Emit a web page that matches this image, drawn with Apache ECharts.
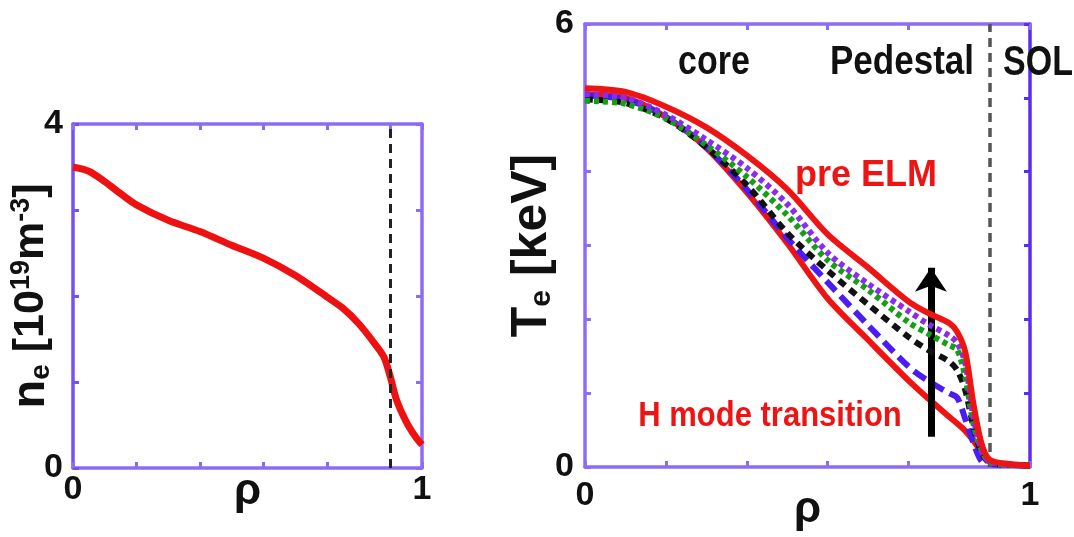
<!DOCTYPE html>
<html><head><meta charset="utf-8">
<script src="https://cdn.jsdelivr.net/npm/echarts@6/dist/echarts.min.js"></script>
<style>html,body{margin:0;padding:0;background:#fff}#c{width:1074px;height:537px}</style>
</head><body><div id="c"></div>
<script>
// ---- data ----
const rhoNe = [0, 0.05, 0.1, 0.15, 0.2, 0.3, 0.4, 0.5, 0.6, 0.7, 0.8, 0.85, 0.9, 0.95, 0.98, 1.0, 1.02, 1.05, 1.08, 1.1];
const ne    = [3.50, 3.45, 3.33, 3.19, 3.06, 2.88, 2.75, 2.59, 2.44, 2.24, 1.99, 1.86, 1.68, 1.45, 1.29, 1.06, 0.79, 0.54, 0.36, 0.27];

const rhoTe    = [0, 0.1, 0.2, 0.3, 0.4, 0.5, 0.6, 0.7, 0.8, 0.85, 0.9, 0.92, 0.94, 0.96, 0.98, 1.0, 1.05, 1.1];
const teHmode  = [5.05, 5.00, 4.74, 4.32, 3.72, 3.03, 2.28, 1.72, 1.17, 0.92, 0.68, 0.59, 0.49, 0.36, 0.20, 0.07, 0.03, 0.02];
const teBlue   = [5.03, 4.98, 4.74, 4.33, 3.76, 3.10, 2.50, 1.92, 1.36, 1.16, 1.00, 0.94, 0.65, 0.33, 0.08, 0.04, 0.03, 0.02];
const teBlack  = [4.98, 4.93, 4.72, 4.33, 3.82, 3.17, 2.66, 2.20, 1.76, 1.58, 1.43, 1.31, 1.04, 0.55, 0.20, 0.06, 0.03, 0.02];
const teGreen  = [4.96, 4.92, 4.72, 4.36, 3.93, 3.41, 2.80, 2.40, 1.96, 1.80, 1.65, 1.59, 1.22, 0.59, 0.23, 0.07, 0.03, 0.02];
const tePurple = [5.05, 5.00, 4.77, 4.43, 4.05, 3.56, 2.90, 2.48, 2.11, 1.93, 1.78, 1.68, 1.41, 0.68, 0.23, 0.07, 0.03, 0.02];
const tePreELM = [5.13, 5.08, 4.88, 4.60, 4.22, 3.76, 3.15, 2.70, 2.24, 2.08, 1.95, 1.83, 1.56, 0.86, 0.32, 0.10, 0.04, 0.02];

const rhoMax = 1.1;          // axis extent; separatrix at rho = 1
const separatrix = 1.0;
const arrowFrom = [0.855, 0.41];
const arrowTo   = [0.855, 2.70];

const xTickText  = [[0, '0'], [1.1, '1']];
const neTickText = [[0, '0'], [4, '4']];
const teTickText = [[0, '0'], [6, '6']];

// ---- chart ----
const pair = (xs, ys) => xs.map((x, i) => [x, ys[i]]);
const lookup = (tbl) => (v) => { for (const [k, t] of tbl) if (Math.abs(v - k) < 1e-6) return t; return ''; };

const FONT = 'Liberation Sans, Arial, sans-serif';
const AX = '#8c6cf4';
const AXDARK = '#5a2cf2';

function xAxis(grid, position, show, margin, nameGap, color) {
  return {
    type: 'value', gridIndex: grid, position, min: 0, max: rhoMax, interval: 0.2,
    axisLine: { show: true, onZero: false, lineStyle: { color: color || AX, width: 3.5 } },
    axisTick: { show: true, inside: true, length: 6, lineStyle: { color: color || AX, width: 3 } },
    splitLine: { show: false },
    axisLabel: show ? { show: true, showMinLabel: true, showMaxLabel: true, margin, formatter: lookup(xTickText),
      color: '#111', fontFamily: FONT, fontWeight: 'bold', fontSize: 34 } : { show: false },
    name: show ? 'ρ' : '', nameLocation: 'middle', nameGap: nameGap || 0, nameMoveOverlap: false,
    nameTextStyle: { color: '#111', fontFamily: FONT, fontSize: 44, fontWeight: 'bold' }
  };
}
function yAxis(grid, position, max, tbl, show, margin, color, name, nameGap, rich) {
  return {
    type: 'value', gridIndex: grid, position, min: 0, max, interval: 1,
    axisLine: { show: true, onZero: false, lineStyle: { color: color || AX, width: 3.5 } },
    axisTick: { show: true, inside: true, length: 6, lineStyle: { color: color || AX, width: 3 } },
    splitLine: { show: false },
    axisLabel: show ? { show: true, showMinLabel: true, showMaxLabel: true, margin, formatter: lookup(tbl),
      color: '#111', fontFamily: FONT, fontWeight: 'bold', fontSize: 34 } : { show: false },
    name: name || '', nameLocation: 'middle', nameRotate: 90, nameGap: nameGap || 0, nameMoveOverlap: false,
    nameTextStyle: { color: '#111', fontFamily: FONT, fontWeight: 'bold', fontSize: 44, rich: rich || {} }
  };
}

const neRich = {
  n: { fontFamily: FONT, fontWeight: 'bold', fontSize: 47, color: '#111' },
  s: { fontFamily: FONT, fontWeight: 'bold', fontSize: 28, color: '#111', verticalAlign: 'bottom' },
  b: { fontFamily: FONT, fontWeight: 'bold', fontSize: 43, color: '#111' },
  p: { fontFamily: FONT, fontWeight: 'bold', fontSize: 27, color: '#111', verticalAlign: 'top' }
};
const teRich = {
  n: { fontFamily: FONT, fontWeight: 'bold', fontSize: 50, color: '#111' },
  s: { fontFamily: FONT, fontWeight: 'bold', fontSize: 30, color: '#111', verticalAlign: 'bottom' },
  b: { fontFamily: FONT, fontWeight: 'bold', fontSize: 50, color: '#111' }
};

function teLine(name, data, color, type, width, z) {
  return {
    name, type: 'line', xAxisIndex: 2, yAxisIndex: 2, data: pair(rhoTe, data),
    showSymbol: false, symbol: 'none', smooth: 0.3, z: z, clip: true,
    lineStyle: { color, width, type, cap: 'butt' }, silent: true
  };
}

const chart = echarts.init(document.getElementById('c'), null, { renderer: 'canvas' });
chart.setOption({
  animation: false,
  backgroundColor: '#fff',
  grid: [
    { left: 73, top: 124, width: 349, height: 344, containLabel: false, outerBoundsMode: 'none' },
    { left: 585, top: 24, width: 445, height: 443, containLabel: false, outerBoundsMode: 'none' }
  ],
  xAxis: [
    xAxis(0, 'bottom', true, 5, 2),
    xAxis(0, 'top', false),
    xAxis(1, 'bottom', true, 12, 21),
    xAxis(1, 'top', false)
  ],
  yAxis: [
    yAxis(0, 'left', 4, neTickText, true, 10, '#7650f2', '{n|n}{s|e}{b| [10}{p|19}{b|m}{p|-3}{b|]}', 18, neRich),
    yAxis(0, 'right', 4, neTickText, false),
    yAxis(1, 'left', 6, teTickText, true, 11, AX, '{n|T}{s|e}{b| [keV]}', 28, teRich),
    yAxis(1, 'right', 6, teTickText, false, 0, AXDARK)
  ],
  series: [
    {
      name: 'ne', type: 'line', xAxisIndex: 0, yAxisIndex: 0, data: pair(rhoNe, ne),
      showSymbol: false, symbol: 'none', smooth: 0.3, z: 3, silent: true,
      lineStyle: { color: '#ee1111', width: 7 },
      markLine: {
        silent: true, symbol: ['none', 'none'], label: { show: false },
        lineStyle: { color: '#222', width: 3, type: [9, 6] },
        data: [{ xAxis: separatrix }]
      }
    },
    teLine('H mode transition', teHmode, '#ee1414', 'solid', 6, 3),
    teLine('blue', teBlue, '#4b1cf3', [14, 7], 6, 4),
    teLine('black', teBlack, '#111111', [8, 6], 6, 5),
    teLine('green', teGreen, '#14a014', [5, 4], 6, 6),
    teLine('purple', tePurple, '#8a2cf0', [5, 4], 6, 7),
    Object.assign(teLine('pre ELM', tePreELM, '#ee1414', 'solid', 6, 8), {
      markLine: {
        silent: true, label: { show: false }, symbol: ['none', 'none'],
        data: [
          [{ coord: [separatrix, 0], symbol: 'none', lineStyle: { color: '#555', width: 3.5, type: [9, 6] } },
           { coord: [separatrix, 6], symbol: 'none' }],
          [{ coord: arrowFrom, symbol: 'none', lineStyle: { color: '#000', width: 7, type: 'solid' } },
           { coord: arrowTo, symbol: 'arrow', symbolSize: 24 }]
        ]
      }
    })
  ],
  graphic: [
    { type: 'text', x: 714, y: 63, scaleY: 1.2, z: 100, style: { text: 'core', fill: '#111', font: 'bold 34px ' + FONT, textAlign: 'center', textVerticalAlign: 'middle' } },
    { type: 'text', x: 902, y: 63, scaleY: 1.15, z: 100, style: { text: 'Pedestal', fill: '#111', font: 'bold 35px ' + FONT, textAlign: 'center', textVerticalAlign: 'middle' } },
    { type: 'text', x: 1038, y: 63, scaleY: 1.25, z: 100, style: { text: 'SOL', fill: '#111', font: 'bold 34px ' + FONT, textAlign: 'center', textVerticalAlign: 'middle' } },
    { type: 'text', x: 866, y: 176, z: 100, style: { text: 'pre ELM', fill: '#ee1414', font: 'bold 36px ' + FONT, textAlign: 'center', textVerticalAlign: 'middle' } },
    { type: 'text', x: 770, y: 416, scaleY: 1.13, z: 100, style: { text: 'H mode transition', fill: '#ee1414', font: 'bold 31px ' + FONT, textAlign: 'center', textVerticalAlign: 'middle' } }
  ]
});
</script>
</body></html>
